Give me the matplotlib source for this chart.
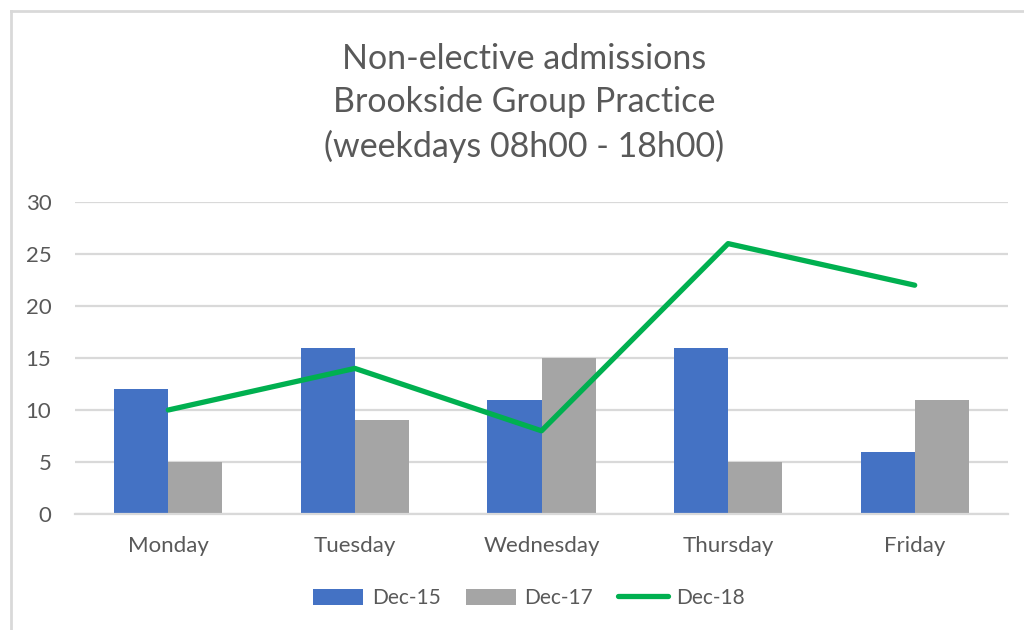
import numpy as np
import matplotlib.pyplot as plt
from matplotlib.lines import Line2D

plt.rcParams['font.family'] = ['Lato', 'DejaVu Sans']

days = ['Monday', 'Tuesday', 'Wednesday', 'Thursday', 'Friday']
dec15 = [12, 16, 11, 16, 6]
dec17 = [5, 9, 15, 5, 11]
dec18 = [10, 14, 8, 26, 22]

text_col = '#595959'
grid_col = '#D9D9D9'

fig = plt.figure(figsize=(10.24, 6.3), dpi=100)
ax = fig.add_axes([75/1024, 1 - 514/630, 933/1024, 312/630])

x = np.arange(len(days))
w = 0.29
b1 = ax.bar(x - w/2, dec15, w, color='#4472C4', label='Dec-15', zorder=2)
b2 = ax.bar(x + w/2, dec17, w, color='#A5A5A5', label='Dec-17', zorder=2)
l1, = ax.plot(x, dec18, color='#00B050', lw=3.8, label='Dec-18', zorder=3,
              solid_capstyle='round')

ax.set_xlim(-0.5, 4.5)
ax.set_ylim(0, 30)
ax.set_yticks(range(0, 31, 5))
ax.set_xticks(x)
ax.set_xticklabels(days)
ax.grid(axis='y', color=grid_col, lw=1.6, zorder=0)
ax.set_axisbelow(True)
for s in ['top', 'right', 'left']:
    ax.spines[s].set_visible(False)
ax.spines['bottom'].set_color(grid_col)
ax.spines['bottom'].set_linewidth(1.6)
ax.tick_params(axis='both', length=0, labelsize=16, colors=text_col)
ax.tick_params(axis='y', pad=17)
ax.tick_params(axis='x', pad=16)

fig.text(524/1024, 1 - 103/630,
         'Non-elective admissions\nBrookside Group Practice\n(weekdays 08h00 - 18h00)',
         ha='center', va='center', fontsize=24.5, color=text_col, linespacing=1.42)

fig.legend([b1, b2, l1], ['Dec-15', 'Dec-17', 'Dec-18'],
           loc='center', bbox_to_anchor=(529/1024, 1 - 598/630), ncol=3,
           frameon=False, fontsize=15, labelcolor=text_col, handlelength=2.4,
           handleheight=0.8, handletextpad=0.4, columnspacing=1.2)

# chart border (left and top only visible)
fig.add_artist(Line2D([11/1024, 11/1024], [0, 1 - 11/630], color=grid_col, lw=2))
fig.add_artist(Line2D([11/1024, 1], [1 - 11/630, 1 - 11/630], color=grid_col, lw=2))

fig.savefig('out.png', dpi=100)
